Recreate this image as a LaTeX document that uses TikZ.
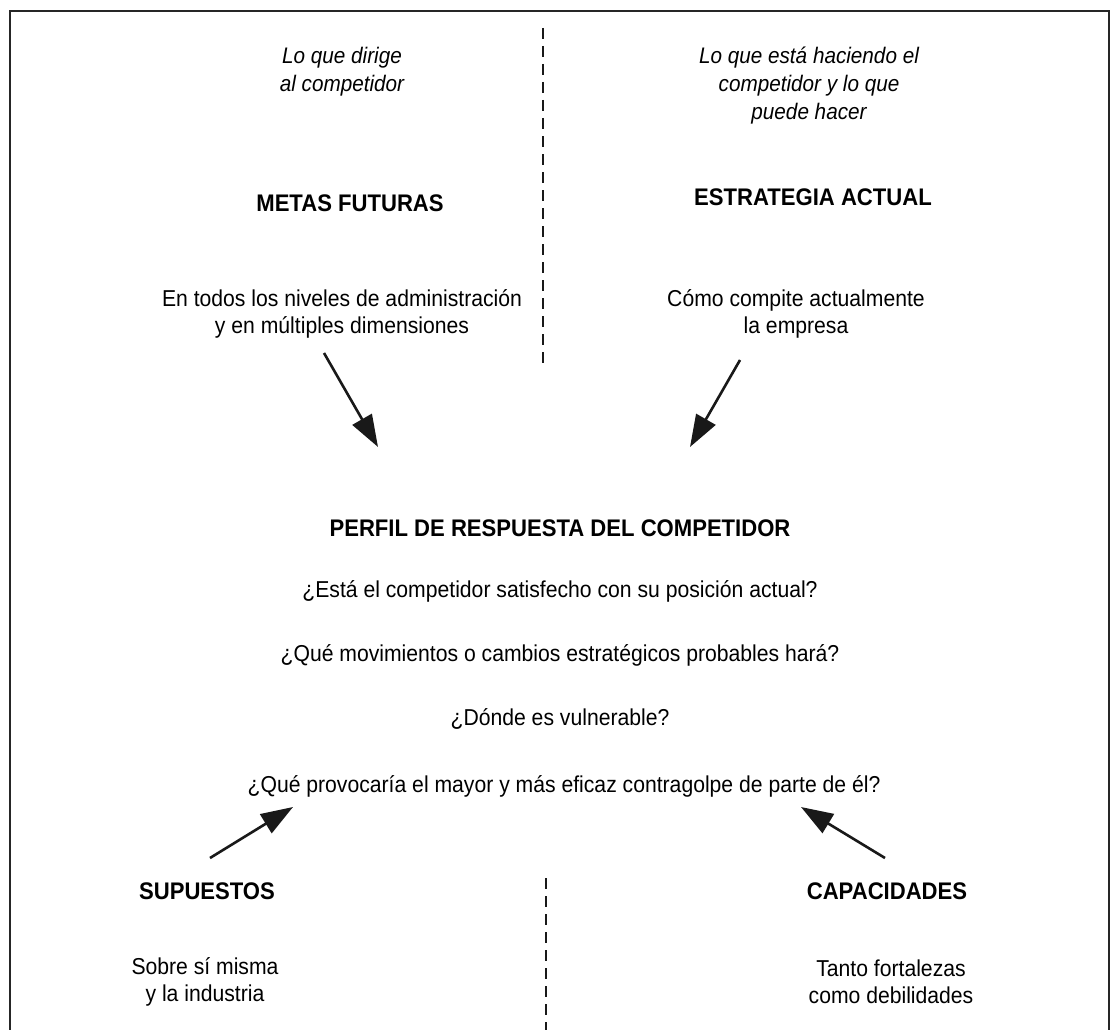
\documentclass[tikz,border=0pt]{standalone}
\usepackage{fontspec}
\setmainfont{Liberation Sans}[FakeStretch=0.92]
\usetikzlibrary{arrows.meta}
\begin{document}
\begin{tikzpicture}[x=1pt,y=-1pt,
  frame/.style={line width=1.6pt,draw=black!85},
  divider/.style={line width=2.6pt,draw=black!90,dash pattern=on 11pt off 7pt},
  flow/.style={line width=2.6pt,draw=black!90,-{Triangle[length=32pt,width=22pt]}},
  note/.style={font=\fontsize{22.5}{28}\selectfont\itshape,align=center,inner sep=0pt},
  head/.style={font=\fontsize{24}{30}\selectfont\bfseries,inner sep=0pt},
  body/.style={font=\fontsize{23}{27}\selectfont,align=center,inner sep=0pt}]
\useasboundingbox (0,0) rectangle (1113,1030);
% frame
\draw[frame] (10,1030) -- (10,11) -- (1109,11) -- (1109,1030);
% dividers
\draw[divider] (543,28) -- (543,370);
\draw[divider] (546,878) -- (546,1030);
% top left
\node[note] (dirige) at (342,72) {Lo que dirige\\al competidor};
\node[head] (metas) at (350,203) {METAS FUTURAS};
\node[body] (metasd) at (342,314) {En todos los niveles de administración\\y en múltiples dimensiones};
% top right
\node[note] (haciendo) at (809,86) {Lo que está haciendo el\\competidor y lo que\\puede hacer};
\node[head] (estr) at (813,197) {ESTRATEGIA ACTUAL};
\node[body] (estrd) at (796,314) {Cómo compite actualmente\\la empresa};
% centre
\node[head] (perfil) at (560,528) {PERFIL DE RESPUESTA DEL COMPETIDOR};
\node[body] (q1) at (560,591) {¿Está el competidor satisfecho con su posición actual?};
\node[body] (q2) at (560,655) {¿Qué movimientos o cambios estratégicos probables hará?};
\node[body] (q3) at (560,719) {¿Dónde es vulnerable?};
\node[body] (q4) at (564,786) {¿Qué provocaría el mayor y más eficaz contragolpe de parte de él?};
% bottom
\node[head] (sup) at (207,891) {SUPUESTOS};
\node[body] (supd) at (205,982) {Sobre sí misma\\y la industria};
\node[head] (cap) at (887,891) {CAPACIDADES};
\node[body] (capd) at (891,982) {Tanto fortalezas\\como debilidades};
% arrow ends
\coordinate (a1s) at (324,353);
\coordinate (a1e) at (378,447);
\coordinate (a2s) at (740,360);
\coordinate (a2e) at (690,447);
\coordinate (a3s) at (210,858);
\coordinate (a3e) at (293,807);
\coordinate (a4s) at (885,858);
\coordinate (a4e) at (801,807);
\draw[flow] (a1s) -- (a1e);
\draw[flow] (a2s) -- (a2e);
\draw[flow] (a3s) -- (a3e);
\draw[flow] (a4s) -- (a4e);
\end{tikzpicture}
\end{document}
